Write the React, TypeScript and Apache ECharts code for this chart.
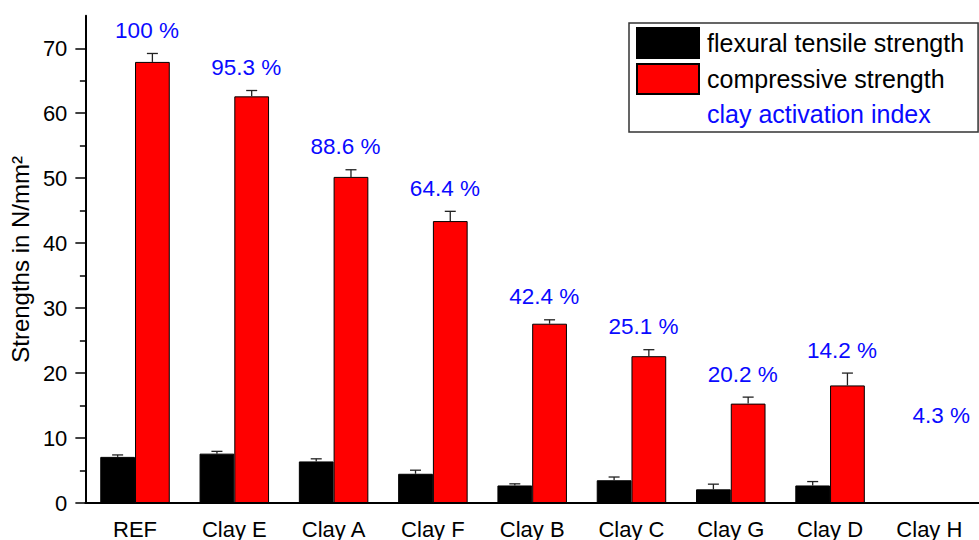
import React, { useEffect, useRef } from "react";
import * as echarts from "echarts";

// Mortar strengths per clay (N/mm²), with standard deviations
const categories = ["REF", "Clay E", "Clay A", "Clay F", "Clay B", "Clay C", "Clay G", "Clay D", "Clay H"];
const flexural: (number | null)[] = [7.1, 7.6, 6.4, 4.5, 2.7, 3.5, 2.1, 2.7, null];
const flexuralErr: (number | null)[] = [0.3, 0.35, 0.4, 0.55, 0.25, 0.5, 0.8, 0.6, null];
const compressive: (number | null)[] = [67.9, 62.6, 50.2, 43.4, 27.6, 22.6, 15.3, 18.1, null];
const compressiveErr: (number | null)[] = [1.3, 0.9, 1.1, 1.5, 0.6, 1.0, 1.0, 1.9, null];
// Clay activation index in %
const activationIndex = [100, 95.3, 88.6, 64.4, 42.4, 25.1, 20.2, 14.2, 4.3];
const yMajorTicks = [0, 10, 20, 30, 40, 50, 60, 70];
const yMinorTicks = [5, 15, 25, 35, 45, 55, 65];

const FONT = "'Liberation Sans', Arial, Helvetica, sans-serif";
const BLUE = "#0a0aff";

export default function App() {
  const ref = useRef<HTMLDivElement>(null);

  useEffect(() => {
    if (!ref.current) return;
    const chart = echarts.init(ref.current, null, { renderer: "svg" });

    const errData = (vals: (number | null)[], errs: (number | null)[], side: number) =>
      vals
        .map((v, i) => (v == null || errs[i] == null ? null : [i, v, errs[i] as number, side]))
        .filter((d) => d !== null);

    const errorSeries = (name: string, data: any[]) => ({
      type: "custom",
      name,
      z: 5,
      silent: true,
      data,
      renderItem: (_params: any, api: any) => {
        const idx = api.value(0);
        const val = api.value(1);
        const err = api.value(2);
        const side = api.value(3);
        const band = api.size([1, 0])[0];
        const base = api.coord([idx, val]);
        const tip = api.coord([idx, val + err]);
        const x = base[0] + side * band * 0.175;
        const style = { stroke: "#222", lineWidth: 1.3 };
        return {
          type: "group",
          children: [
            { type: "line", shape: { x1: x, y1: base[1], x2: x, y2: tip[1] }, style },
            { type: "line", shape: { x1: x - 5.5, y1: tip[1], x2: x + 5.5, y2: tip[1] }, style },
          ],
        };
      },
    });

    // Index labels sit just above the upper end of the compressive error bar
    const labelAnchor = compressive.map((v, i) =>
      v == null ? 10 : v + (compressiveErr[i] ?? 0)
    );

    const option: any = {
      animation: false,
      backgroundColor: "#fff",
      textStyle: { fontFamily: FONT },
      grid: { left: 85, right: -9, top: 15.8, bottom: 36.5, containLabel: false },
      legend: {
        orient: "vertical",
        left: 629,
        top: 23,
        itemWidth: 62,
        itemHeight: 30,
        itemGap: 4,
        padding: [4, 14, 3, 7],
        borderColor: "#333",
        borderWidth: 1.5,
        backgroundColor: "#fff",
        selectedMode: false,
        textStyle: { fontSize: 25, color: "#000", fontFamily: FONT, padding: [0, 0, 0, 3] },
        data: [
          { name: "flexural tensile strength", icon: "rect" },
          { name: "compressive strength", icon: "rect" },
          {
            name: "clay activation index",
            icon: "rect",
            itemStyle: { color: "rgba(0,0,0,0)", borderWidth: 0, opacity: 0 },
            textStyle: { color: BLUE },
          },
        ],
      },
      xAxis: [
        {
          type: "category",
          data: categories,
          position: "bottom",
          axisLine: { lineStyle: { color: "#000", width: 2 } },
          axisTick: { alignWithLabel: true, length: 10, lineStyle: { color: "#000", width: 1.5 } },
          axisLabel: { fontSize: 22, color: "#000", margin: 15, fontFamily: FONT },
          splitLine: { show: false },
        },
        {
          type: "category",
          data: categories,
          position: "bottom",
          axisLine: { show: false },
          axisTick: { length: 5, lineStyle: { color: "#000", width: 1.5 } },
          axisLabel: { show: false },
          splitLine: { show: false },
        },
      ],
      yAxis: [
        {
          type: "value",
          min: 0,
          max: 75,
          position: "left",
          name: "Strengths in N/mm²",
          nameLocation: "middle",
          nameGap: 51,
          nameTextStyle: { fontSize: 24, color: "#000", fontFamily: FONT },
          axisLine: { show: true, lineStyle: { color: "#000", width: 2 } },
          axisTick: { show: true, length: 10, customValues: yMajorTicks, lineStyle: { color: "#000", width: 1.5 } },
          axisLabel: { customValues: yMajorTicks, fontSize: 22, color: "#000", margin: 18, fontFamily: FONT },
          splitLine: { show: false },
        },
        {
          type: "value",
          min: 0,
          max: 75,
          position: "left",
          axisLine: { show: false },
          axisTick: { show: true, length: 5.5, customValues: yMinorTicks, lineStyle: { color: "#000", width: 1.5 } },
          axisLabel: { show: false },
          splitLine: { show: false },
        },
      ],
      series: [
        {
          type: "bar",
          name: "flexural tensile strength",
          data: flexural,
          barGap: "0%",
          barCategoryGap: "30%",
          itemStyle: { color: "#000", borderColor: "#000", borderWidth: 1 },
        },
        {
          type: "bar",
          name: "compressive strength",
          data: compressive,
          barGap: "0%",
          barCategoryGap: "30%",
          itemStyle: { color: "#ff0000", borderColor: "#000", borderWidth: 1 },
        },
        errorSeries("flexural error", errData(flexural, flexuralErr, -1)),
        errorSeries("compressive error", errData(compressive, compressiveErr, 1)),
        {
          type: "scatter",
          name: "clay activation index",
          data: labelAnchor,
          symbol: "circle",
          symbolSize: 1,
          itemStyle: { color: "rgba(0,0,0,0)" },
          silent: true,
          z: 6,
          label: {
            show: true,
            position: "top",
            distance: 11,
            offset: [12, 0],
            fontSize: 22.5,
            color: BLUE,
            opacity: 1,
            fontFamily: FONT,
            formatter: (p: any) => `${activationIndex[p.dataIndex]} %`,
          },
        },
      ],
    };

    chart.setOption(option);
    return () => chart.dispose();
  }, []);

  return (
    <div
      ref={ref}
      style={{ position: "absolute", left: 0, top: 0, width: 979, height: 540, overflow: "hidden" }}
    />
  );
}
